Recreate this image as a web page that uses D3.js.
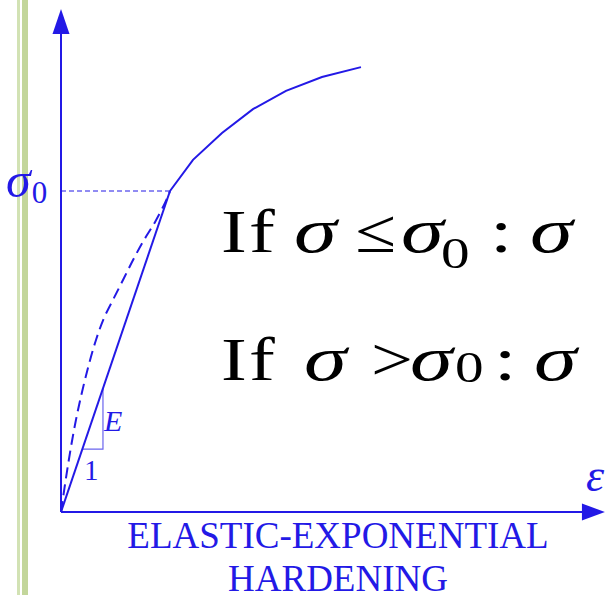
<!DOCTYPE html>
<html>
<head>
<meta charset="utf-8">
<script src="https://cdn.jsdelivr.net/npm/d3@7"></script>
<style>
  body { margin: 0; background: #fff; }
  svg { display: block; }
  text { font-family: 'Liberation Serif', 'Times New Roman', serif; }
</style>
</head>
<body>
<svg width="605" height="595"></svg>
<script>
// strain / stress in units of the yield point (eps0 = 1, sigma0 = 1)
const elasticStrain = [0, 1];
const elasticStress = [0, 1];

const hardeningStrain = [1, 1.211, 1.477, 1.761, 2.064, 2.394, 2.752];
const hardeningStress = [1, 1.097, 1.181, 1.255, 1.312, 1.355, 1.386];

const dashedStrain = [0, 0.064, 0.128, 0.193, 0.257, 0.321, 0.394, 0.486, 0.578, 0.670, 0.761, 0.862, 0.954, 1];
const dashedStress = [0, 0.146, 0.271, 0.374, 0.461, 0.536, 0.604, 0.667, 0.729, 0.791, 0.847, 0.903, 0.963, 1];

const slopeStrain = [0.196, 0.385];
const slopeStress = [0.196, 0.385];

const axisMax = [4.99, 1.567];
const titleLines = ['ELASTIC-EXPONENTIAL', 'HARDENING'];

const blue = '#2319e6';
const paleBlue = '#6a64ee';

const svg = d3.select('svg');

const x = d3.scaleLinear().domain([0, 5]).range([61, 606]);
const y = d3.scaleLinear().domain([0, 1.5]).range([512, 30.5]);

// slide border on the left
svg.append('rect').attr('x', 17).attr('y', 0).attr('width', 3).attr('height', 595).attr('fill', '#d2e2b4');
svg.append('rect').attr('x', 22).attr('y', 0).attr('width', 6).attr('height', 595).attr('fill', '#c3d69b');

function toPoints(xs, ys) {
  return xs.map((v, i) => [x(v), y(ys[i])]);
}

const line = d3.line();
const smooth = d3.line().curve(d3.curveCatmullRom.alpha(0.5));

// axes with arrow heads
const x0 = x(0);
const y0 = y(0);
const xEnd = x(axisMax[0]);
const yEnd = y(axisMax[1]);
svg.append('line').attr('x1', x0).attr('y1', y0).attr('x2', xEnd - 20).attr('y2', y0)
  .attr('stroke', blue).attr('stroke-width', 2);
svg.append('line').attr('x1', x0).attr('y1', y0).attr('x2', x0).attr('y2', yEnd + 22)
  .attr('stroke', blue).attr('stroke-width', 2);
svg.append('path')
  .attr('d', `M${xEnd},${y0}L${xEnd - 23},${y0 - 8.5}L${xEnd - 23},${y0 + 8.5}Z`)
  .attr('fill', blue);
svg.append('path')
  .attr('d', `M${x0},${yEnd}L${x0 - 8.5},${yEnd + 25}L${x0 + 8.5},${yEnd + 25}Z`)
  .attr('fill', blue);

// yield level
svg.append('line')
  .attr('x1', x0).attr('y1', y(1)).attr('x2', x(1)).attr('y2', y(1))
  .attr('stroke', blue).attr('stroke-width', 1).attr('stroke-dasharray', '5,3');

// slope triangle
svg.append('path')
  .attr('d', line([
    [x(slopeStrain[0]), y(slopeStress[0])],
    [x(slopeStrain[1]), y(slopeStress[0])],
    [x(slopeStrain[1]), y(slopeStress[1])],
  ]))
  .attr('fill', 'none').attr('stroke', paleBlue).attr('stroke-width', 1.2);

// curves
svg.append('path')
  .attr('d', smooth(toPoints(dashedStrain, dashedStress)))
  .attr('fill', 'none').attr('stroke', blue).attr('stroke-width', 2)
  .attr('stroke-dasharray', '11,6');
svg.append('path')
  .attr('d', line(toPoints(elasticStrain, elasticStress)))
  .attr('fill', 'none').attr('stroke', blue).attr('stroke-width', 2);
svg.append('path')
  .attr('d', line(toPoints(hardeningStrain, hardeningStress)))
  .attr('fill', 'none').attr('stroke', blue).attr('stroke-width', 2);

// labels
const sig0 = svg.append('text').attr('x', 6).attr('y', 197).attr('fill', blue);
sig0.append('tspan').attr('font-size', 50).attr('font-style', 'italic').text('σ');
sig0.append('tspan').attr('font-size', 31).attr('dx', 1).attr('dy', 6).text('0');

svg.append('text').attr('x', 586).attr('y', 491).attr('fill', blue)
  .attr('font-size', 46).attr('font-style', 'italic').text('ε');

svg.append('text').attr('x', 104).attr('y', 431).attr('fill', blue)
  .attr('font-size', 30).attr('font-style', 'italic').text('E');
svg.append('text').attr('x', 84).attr('y', 480).attr('fill', blue)
  .attr('font-size', 29).text('1');

svg.selectAll('.title')
  .data(titleLines)
  .join('text')
  .attr('class', 'title')
  .attr('x', 338)
  .attr('y', (d, i) => 548 + i * 43)
  .attr('text-anchor', 'middle')
  .attr('font-size', 37)
  .attr('fill', blue)
  .text(d => d);

// formula, stretched horizontally like the pasted equation
// [text, x, font size, baseline shift, italic, x stretch]
const formulaRows = [
  { base: 252, parts: [['I', 221, 62, 0, false, 1.25], ['f', 249, 62, 0, false, 1.25], ['σ', 294, 64, 0, true, 1.35], ['≤', 355, 62, 0, false, 1.2], ['σ', 401, 64, 0, true, 1.35], ['0', 441, 44, 16, false, 1.3], [':', 490, 62, 0, false, 1.3], ['σ', 530, 64, 0, true, 1.35]] },
  { base: 380, parts: [['I', 221, 62, 0, false, 1.25], ['f', 249, 62, 0, false, 1.25], ['σ', 304, 64, 0, true, 1.35], ['>', 371, 62, 0, false, 1.2], ['σ', 410, 64, 0, true, 1.35], ['0', 455, 44, 2, false, 1.3], [':', 494, 62, 0, false, 1.3], ['σ', 534, 64, 0, true, 1.35]] },
];

formulaRows.forEach((row) => {
  row.parts.forEach(([txt, px, size, dy, italic, sx]) => {
    svg.append('text')
      .attr('transform', `translate(${px},${row.base + dy}) scale(${sx},1)`)
      .attr('font-size', size)
      .attr('font-style', italic ? 'italic' : 'normal')
      .attr('fill', '#000')
      .text(txt);
  });
});
</script>
</body>
</html>
